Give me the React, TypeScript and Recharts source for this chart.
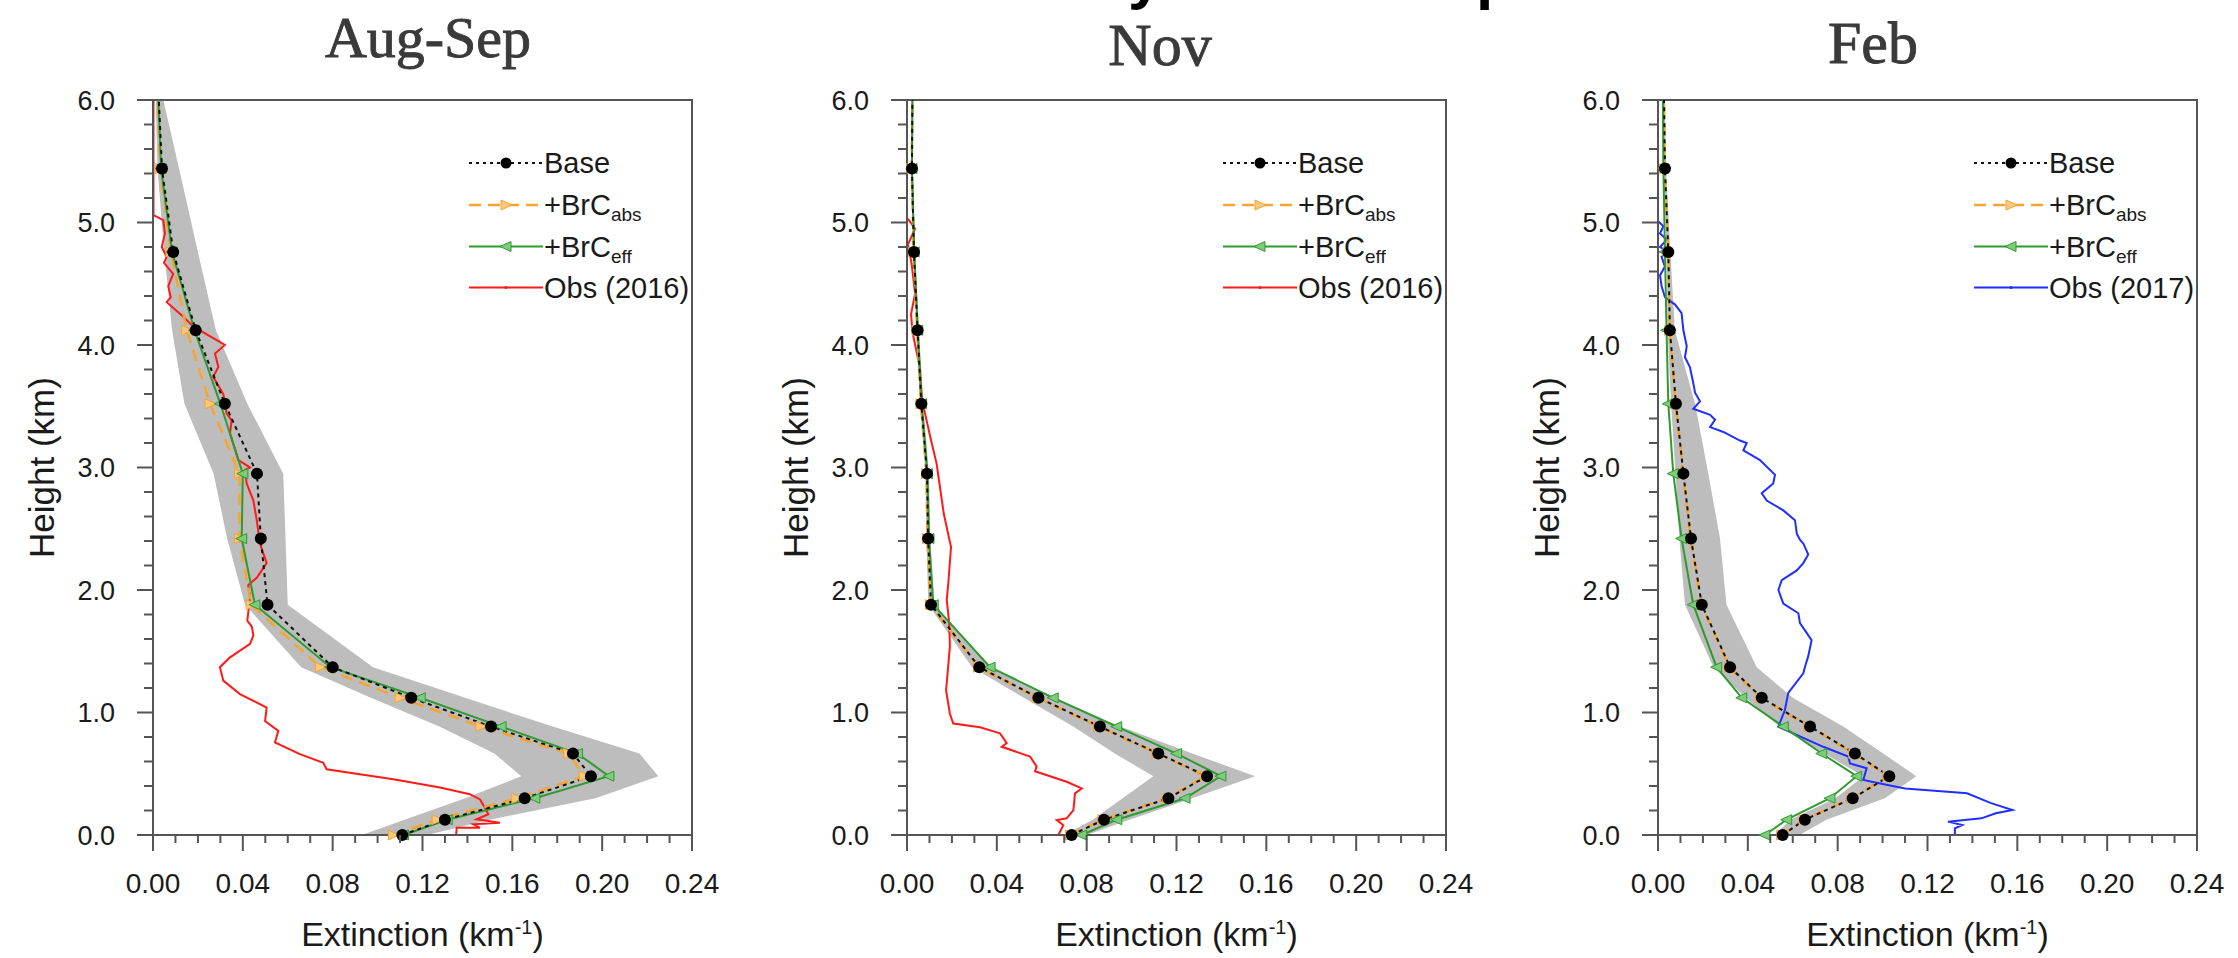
import React from 'react';
import { ComposedChart, Line, Area, XAxis, YAxis, ReferenceArea, Legend } from 'recharts';

// ---------- shared model levels (km) ----------
const modelHeights = [0, 0.125, 0.3, 0.48, 0.665, 0.885, 1.12, 1.37, 1.88, 2.42, 2.95, 3.52, 4.12, 4.76, 5.44, 6.0];

// ---------- Aug-Sep ----------
const augBase = [0.111, 0.13, 0.1655, 0.195, 0.187, 0.1505, 0.115, 0.08, 0.051, 0.048, 0.0463, 0.032, 0.019, 0.009, 0.004, 0.0026];
const augAbs = [0.107, 0.1265, 0.162, 0.192, 0.185, 0.146, 0.11, 0.0745, 0.0437, 0.0385, 0.0385, 0.0254, 0.015, 0.008, 0.0032, 0.0022];
const augEff = [0.1115, 0.131, 0.17, 0.203, 0.189, 0.155, 0.119, 0.079, 0.0454, 0.0395, 0.04, 0.03, 0.0185, 0.0085, 0.0036, 0.0024];
const augLow = [0.093, 0.112, 0.139, 0.164, 0.152, 0.1275, 0.097, 0.066, 0.041, 0.033, 0.027, 0.014, 0.0085, 0.005, 0.002, 0.0012];
const augHigh = [0.122, 0.15, 0.197, 0.225, 0.2166, 0.178, 0.139, 0.098, 0.06, 0.059, 0.058, 0.042, 0.028, 0.02, 0.0116, 0.0046];
const augObsHeight = [6.0, 5.06, 5.02, 4.91, 4.8, 4.72, 4.67, 4.58, 4.48, 4.39, 4.35, 4.23, 4.15, 4.0, 3.93, 3.82, 3.74, 3.6, 3.44, 3.385, 3.28, 3.06, 3.0, 2.98, 2.87, 2.73, 2.57, 2.38, 2.22, 2.1, 2.04, 1.94, 1.75, 1.7, 1.63, 1.56, 1.45, 1.37, 1.26, 1.15, 1.04, 0.93, 0.85, 0.755, 0.66, 0.59, 0.537, 0.455, 0.387, 0.333, 0.29, 0.223, 0.17, 0.128, 0.1, 0.087, 0.06, 0.06, 0.0];
const augObsExt = [0.0002, 0.0002, 0.0046, 0.0053, 0.0039, 0.0061, 0.0049, 0.009, 0.0068, 0.0079, 0.0061, 0.0135, 0.018, 0.032, 0.0276, 0.0291, 0.0268, 0.0313, 0.0328, 0.035, 0.0343, 0.038, 0.0432, 0.041, 0.0417, 0.0447, 0.0462, 0.0476, 0.0506, 0.0462, 0.0424, 0.0432, 0.042, 0.044, 0.0447, 0.0432, 0.0343, 0.0298, 0.0313, 0.0387, 0.0506, 0.0499, 0.0558, 0.0543, 0.0654, 0.0758, 0.0773, 0.107, 0.1278, 0.1411, 0.1456, 0.1478, 0.1493, 0.1441, 0.1545, 0.1426, 0.1456, 0.1352, 0.135];

// ---------- Nov ----------
const novBase = [0.0733, 0.0877, 0.1164, 0.1336, 0.1119, 0.0859, 0.0585, 0.0322, 0.0107, 0.0094, 0.0089, 0.0064, 0.0047, 0.0031, 0.0022, 0.0024];
const novAbs = [0.0728, 0.0872, 0.1158, 0.133, 0.1113, 0.0853, 0.058, 0.0318, 0.0104, 0.0091, 0.0087, 0.0062, 0.0045, 0.003, 0.0021, 0.0024];
const novEff = [0.0778, 0.0934, 0.1238, 0.1398, 0.12, 0.0934, 0.0651, 0.037, 0.0117, 0.0098, 0.0091, 0.0065, 0.0048, 0.0032, 0.0022, 0.0024];
const novLow = [0.07, 0.0827, 0.096, 0.1097, 0.0925, 0.074, 0.052, 0.029, 0.0095, 0.0086, 0.0082, 0.0058, 0.0042, 0.0028, 0.0019, 0.002];
const novHigh = [0.08, 0.099, 0.127, 0.155, 0.127, 0.095, 0.066, 0.037, 0.0122, 0.0104, 0.0098, 0.0072, 0.0054, 0.0036, 0.0026, 0.0028];
const novObsHeight = [5.03, 4.95, 4.82, 4.67, 4.42, 4.25, 4.1, 3.82, 3.55, 3.28, 3.2, 3.03, 2.9, 2.62, 2.35, 2.08, 1.92, 1.73, 1.54, 1.18, 0.99, 0.91, 0.88, 0.83, 0.75, 0.72, 0.64, 0.56, 0.52, 0.435, 0.38, 0.34, 0.204, 0.136, 0.122, 0.08, 0.0];
const novObsExt = [0.0004, 0.0036, 0.0004, 0.002, 0.0036, 0.0018, 0.0025, 0.0057, 0.0067, 0.01, 0.011, 0.0132, 0.0142, 0.0164, 0.0196, 0.0185, 0.0177, 0.0188, 0.0191, 0.0174, 0.0191, 0.0206, 0.0325, 0.0414, 0.0444, 0.0422, 0.0548, 0.0577, 0.057, 0.0711, 0.0778, 0.0748, 0.0741, 0.0711, 0.0667, 0.0696, 0.0674];

// ---------- Feb ----------
const febBase = [0.0555, 0.0654, 0.0867, 0.103, 0.0877, 0.0677, 0.0462, 0.0321, 0.0195, 0.0147, 0.0113, 0.008, 0.0053, 0.0046, 0.0031, 0.0027];
const febAbs = [0.0551, 0.065, 0.0862, 0.1024, 0.0872, 0.0672, 0.0458, 0.0318, 0.0193, 0.0145, 0.0112, 0.0079, 0.0052, 0.0045, 0.003, 0.0027];
const febEff = [0.0476, 0.0573, 0.0766, 0.0885, 0.0729, 0.0558, 0.0373, 0.0261, 0.0157, 0.0105, 0.0068, 0.0046, 0.0038, 0.0031, 0.0024, 0.0022];
const febLow = [0.052, 0.059, 0.079, 0.0915, 0.074, 0.054, 0.039, 0.0247, 0.012, 0.0095, 0.0078, 0.0058, 0.0043, 0.0038, 0.0027, 0.0023];
const febHigh = [0.063, 0.075, 0.101, 0.115, 0.1003, 0.0825, 0.06, 0.044, 0.0305, 0.0276, 0.0224, 0.0165, 0.0075, 0.0055, 0.0036, 0.0031];
const febObsHeight = [5.01, 4.97, 4.91, 4.86, 4.8, 4.76, 4.72, 4.64, 4.57, 4.48, 4.39, 4.33, 4.26, 4.12, 3.99, 3.9, 3.82, 3.69, 3.61, 3.54, 3.48, 3.43, 3.39, 3.33, 3.29, 3.22, 3.2, 3.14, 3.06, 2.94, 2.87, 2.79, 2.73, 2.65, 2.57, 2.46, 2.41, 2.38, 2.29, 2.22, 2.16, 2.08, 2.0, 1.89, 1.81, 1.73, 1.65, 1.59, 1.46, 1.37, 1.32, 1.16, 1.02, 0.884, 0.83, 0.72, 0.64, 0.585, 0.545, 0.45, 0.435, 0.38, 0.34, 0.26, 0.204, 0.177, 0.136, 0.109, 0.082, 0.054, 0.0];
const febObsExt = [0.0001, 0.0024, 0.0009, 0.0039, 0.0009, 0.0046, 0.0016, 0.0031, 0.0009, 0.0016, 0.0031, 0.0076, 0.0105, 0.0113, 0.0128, 0.012, 0.0142, 0.0157, 0.0165, 0.0187, 0.0157, 0.0232, 0.0254, 0.0232, 0.0291, 0.0365, 0.0395, 0.038, 0.0454, 0.0521, 0.0513, 0.0462, 0.0484, 0.0558, 0.061, 0.0618, 0.0632, 0.0647, 0.0669, 0.0647, 0.0618, 0.0551, 0.0536, 0.0558, 0.0625, 0.0632, 0.0662, 0.0684, 0.0669, 0.0654, 0.0647, 0.058, 0.0565, 0.0536, 0.0602, 0.0736, 0.0847, 0.0855, 0.0929, 0.0914, 0.0951, 0.11, 0.1376, 0.1483, 0.1578, 0.1504, 0.144, 0.1291, 0.1355, 0.1322, 0.1322];

// ---------- ticks / labels ----------
const xMajorTicks = [0, 0.04, 0.08, 0.12, 0.16, 0.2, 0.24];
const xTickLabels = ['0.00', '0.04', '0.08', '0.12', '0.16', '0.20', '0.24'];
const xMinorTicks = [0.01, 0.02, 0.03, 0.05, 0.06, 0.07, 0.09, 0.1, 0.11, 0.13, 0.14, 0.15, 0.17, 0.18, 0.19, 0.21, 0.22, 0.23];
const yMajorTicks = [0, 1, 2, 3, 4, 5, 6];
const yTickLabels = ['0.0', '1.0', '2.0', '3.0', '4.0', '5.0', '6.0'];
const yMinorTicks = [0.2, 0.4, 0.6, 0.8, 1.2, 1.4, 1.6, 1.8, 2.2, 2.4, 2.6, 2.8, 3.2, 3.4, 3.6, 3.8, 4.2, 4.4, 4.6, 4.8, 5.2, 5.4, 5.6, 5.8];
const panelTitles = ['Aug-Sep', 'Nov', 'Feb'];
const seriesNames = ['Base', '+BrC', '+BrC', 'Obs'];
const obsYears = ['(2016)', '(2016)', '(2017)'];

const xAllTicks = [...xMajorTicks, ...xMinorTicks].sort((a, b) => a - b);
const yAllTicks = [...yMajorTicks, ...yMinorTicks].sort((a, b) => a - b);

const AXIS_COLOR = '#555555';
const TEXT_COLOR = '#1a1a1a';
const SANS = '"Liberation Sans", Arial, Helvetica, sans-serif';
const SERIF = '"Liberation Serif", "Times New Roman", serif';
const BAND = '#bdbdbd';
const ORANGE = '#f5a530';
const ORANGE_LIGHT = '#f9c77e';
const GREEN = '#2f9a2f';
const GREEN_LIGHT = '#7ccc7c';
const TITLE_COLOR = '#3a3a3a';

const TICK_SIZE = 16;
const TICK_MARGIN = 22;

const findIdx = (arr: number[], v: number) => arr.findIndex((t) => Math.abs(t - v) < 1e-9);

const XTick = (props: any) => {
  const { x, y, payload } = props;
  const idx = findIdx(xMajorTicks, payload.value);
  const axisY = y - TICK_SIZE - TICK_MARGIN;
  return (
    <g>
      <line x1={x} x2={x} y1={axisY} y2={axisY + (idx >= 0 ? 16 : 8)} stroke={AXIS_COLOR} strokeWidth={2} />
      {idx >= 0 && (
        <text x={x} y={axisY + 58} textAnchor="middle" fontSize={28} fontFamily={SANS} fill={TEXT_COLOR}>
          {xTickLabels[idx]}
        </text>
      )}
    </g>
  );
};

const YTick = (props: any) => {
  const { x, y, payload } = props;
  const idx = findIdx(yMajorTicks, payload.value);
  const axisX = x + TICK_SIZE + TICK_MARGIN;
  return (
    <g>
      <line x1={axisX - (idx >= 0 ? 16 : 9)} x2={axisX} y1={y} y2={y} stroke={AXIS_COLOR} strokeWidth={2} />
      {idx >= 0 && (
        <text x={x} y={y + 9.5} textAnchor="end" fontSize={27} fontFamily={SANS} fill={TEXT_COLOR}>
          {yTickLabels[idx]}
        </text>
      )}
    </g>
  );
};

const XTitle = (props: any) => {
  const vb = props.viewBox || { x: 0, y: 0, width: 0, height: 0 };
  return (
    <text x={vb.x + vb.width / 2} y={vb.y + 111} textAnchor="middle" fontSize={34} fontFamily={SANS} fill={TEXT_COLOR}>
      Extinction (km
      <tspan fontSize={20} dy={-12}>-1</tspan>
      <tspan dy={12}>)</tspan>
    </text>
  );
};

const YTitle = (props: any) => {
  const vb = props.viewBox || { x: 0, y: 0, width: 0, height: 0 };
  const cx = vb.x + 41;
  const cy = vb.y + vb.height / 2;
  return (
    <text x={cx} y={cy} dy="0.35em" textAnchor="middle" fontSize={35} fontFamily={SANS} fill={TEXT_COLOR} transform={`rotate(-90, ${cx}, ${cy})`}>
      Height (km)
    </text>
  );
};

const baseDot = (props: any) => {
  const { cx, cy, payload, index } = props;
  if (payload.h >= 6) return <g key={`bd${index}`} />;
  return <circle key={`bd${index}`} cx={cx} cy={cy} r={6} fill="#000" />;
};

const absDot = (props: any) => {
  const { cx, cy, payload, index } = props;
  if (payload.h >= 6) return <g key={`ad${index}`} />;
  return <polygon key={`ad${index}`} points={`${cx - 5},${cy - 5} ${cx + 6},${cy} ${cx - 5},${cy + 5}`} fill={ORANGE_LIGHT} stroke={ORANGE} strokeWidth={1} />;
};

const effDot = (props: any) => {
  const { cx, cy, payload, index } = props;
  if (payload.h >= 6) return <g key={`ed${index}`} />;
  return <polygon key={`ed${index}`} points={`${cx + 5},${cy - 5} ${cx - 6},${cy} ${cx + 5},${cy + 5}`} fill={GREEN_LIGHT} stroke={GREEN} strokeWidth={1} />;
};

const bandRange = (d: any) => [d.lo, d.hi];

const LegendBox = ({ obsColor, obsLabel }: { obsColor: string; obsLabel: string }) => {
  const rows = [28, 70, 111.5, 152.5];
  const tx = 75;
  const fs = 29;
  return (
    <svg width={290} height={180} style={{ display: 'block', overflow: 'visible' }}>
      <line x1={0} x2={74} y1={rows[0]} y2={rows[0]} stroke="#111" strokeWidth={2} strokeDasharray="3 4" />
      <circle cx={37} cy={rows[0]} r={5.5} fill="#000" />
      <text x={tx} y={rows[0] + 10} fontSize={fs} fontFamily={SANS} fill={TEXT_COLOR}>{seriesNames[0]}</text>
      <line x1={0} x2={74} y1={rows[1]} y2={rows[1]} stroke={ORANGE} strokeWidth={2.5} strokeDasharray="12 7" />
      <polygon points={`${32},${rows[1] - 5} ${43},${rows[1]} ${32},${rows[1] + 5}`} fill={ORANGE_LIGHT} stroke={ORANGE} strokeWidth={1} />
      <text x={tx} y={rows[1] + 10} fontSize={fs} fontFamily={SANS} fill={TEXT_COLOR}>
        {seriesNames[1]}
        <tspan fontSize={19} dy={6}>abs</tspan>
      </text>
      <line x1={0} x2={74} y1={rows[2]} y2={rows[2]} stroke={GREEN} strokeWidth={2} />
      <polygon points={`${42},${rows[2] - 5} ${31},${rows[2]} ${42},${rows[2] + 5}`} fill={GREEN_LIGHT} stroke={GREEN} strokeWidth={1} />
      <text x={tx} y={rows[2] + 10} fontSize={fs} fontFamily={SANS} fill={TEXT_COLOR}>
        {seriesNames[2]}
        <tspan fontSize={19} dy={6}>eff</tspan>
      </text>
      <line x1={0} x2={74} y1={rows[3]} y2={rows[3]} stroke={obsColor} strokeWidth={2} />
      <circle cx={37} cy={rows[3]} r={1.6} fill={obsColor} />
      <text x={tx} y={rows[3] + 10} fontSize={fs} fontFamily={SANS} fill={TEXT_COLOR}>{obsLabel}</text>
    </svg>
  );
};

type PanelProps = {
  left: number;
  base: number[];
  abs: number[];
  eff: number[];
  low: number[];
  high: number[];
  obsHeight: number[];
  obsExt: number[];
  obsColor: string;
  obsLabel: string;
};

const RIGHT_MARGIN = 50;
const CHART_W = 152 + 539 + RIGHT_MARGIN;
const CHART_H = 958;

function Panel(p: PanelProps) {
  const band = modelHeights.map((h, i) => ({ h, lo: p.low[i], hi: p.high[i] }));
  const base = modelHeights.map((h, i) => ({ h, v: p.base[i] }));
  const abs = modelHeights.map((h, i) => ({ h, v: p.abs[i] }));
  const eff = modelHeights.map((h, i) => ({ h, v: p.eff[i] }));
  const obs = p.obsHeight.map((h, i) => ({ h, v: p.obsExt[i] }));
  return (
    <div style={{ position: 'absolute', left: p.left, top: 0, width: CHART_W, height: CHART_H }}>
      <ComposedChart layout="vertical" width={CHART_W} height={CHART_H} margin={{ top: 100, right: RIGHT_MARGIN, bottom: 0, left: 0 }}>
        <XAxis
          type="number"
          dataKey="v"
          domain={[0, 0.24]}
          ticks={xAllTicks}
          interval={0}
          height={123}
          tickSize={TICK_SIZE}
          tickMargin={TICK_MARGIN}
          tickLine={false}
          axisLine={{ stroke: AXIS_COLOR, strokeWidth: 2 }}
          tick={XTick}
          label={XTitle}
        />
        <YAxis
          type="number"
          dataKey="h"
          domain={[0, 6]}
          reversed
          ticks={yAllTicks}
          interval={0}
          width={152}
          tickSize={TICK_SIZE}
          tickMargin={TICK_MARGIN}
          tickLine={false}
          axisLine={{ stroke: AXIS_COLOR, strokeWidth: 2 }}
          tick={YTick}
          label={YTitle}
        />
        <Area data={band} dataKey={bandRange} type="linear" fill={BAND} fillOpacity={1} stroke="none" dot={false} activeDot={false} isAnimationActive={false} />
        <Line data={obs} dataKey="v" type="linear" stroke={p.obsColor} strokeWidth={2} dot={false} activeDot={false} isAnimationActive={false} />
        <Line data={abs} dataKey="v" type="linear" stroke={ORANGE} strokeWidth={2.5} strokeDasharray="12 7" dot={absDot} activeDot={false} isAnimationActive={false} />
        <Line data={eff} dataKey="v" type="linear" stroke={GREEN} strokeWidth={2} dot={effDot} activeDot={false} isAnimationActive={false} />
        <Line data={base} dataKey="v" type="linear" stroke="#111" strokeWidth={2} strokeDasharray="4 4" dot={baseDot} activeDot={false} isAnimationActive={false} />
        <ReferenceArea x1={0} x2={0.24} y1={0} y2={6} fill="none" fillOpacity={0} stroke={AXIS_COLOR} strokeWidth={2} />
        <Legend
          layout="vertical"
          align="center"
          verticalAlign="middle"
          wrapperStyle={{ position: 'absolute', left: 468, top: 135, width: 290, height: 180 }}
          content={() => <LegendBox obsColor={p.obsColor} obsLabel={p.obsLabel} />}
        />
      </ComposedChart>
    </div>
  );
}

export default function App() {
  return (
    <div style={{ position: 'absolute', left: 0, top: 0, width: 2238, height: 958, background: '#fff', overflow: 'hidden' }}>
      <svg width={2238} height={958} style={{ position: 'absolute', left: 0, top: 0 }}>
        {/* heading above the figure is cut off by the image edge: only its descenders remain */}
        <text x={1128} y={-3} fontSize={62} fontWeight="bold" fontFamily={SANS} fill="#000">y</text>
        <text x={1476} y={-3} fontSize={62} fontWeight="bold" fontFamily={SANS} fill="#000">p</text>
        <text x={428} y={57} textAnchor="middle" fontSize={58} fontFamily={SERIF} fill={TITLE_COLOR} stroke={TITLE_COLOR} strokeWidth={0.9}>{panelTitles[0]}</text>
        <text x={1160} y={65} textAnchor="middle" fontSize={60} fontFamily={SERIF} fill={TITLE_COLOR} stroke={TITLE_COLOR} strokeWidth={0.9}>{panelTitles[1]}</text>
        <text x={1873} y={63} textAnchor="middle" fontSize={60} fontFamily={SERIF} fill={TITLE_COLOR} stroke={TITLE_COLOR} strokeWidth={0.9}>{panelTitles[2]}</text>
      </svg>
      <Panel left={1} base={augBase} abs={augAbs} eff={augEff} low={augLow} high={augHigh} obsHeight={augObsHeight} obsExt={augObsExt} obsColor="#ff1a1a" obsLabel={`${seriesNames[3]} ${obsYears[0]}`} />
      <Panel left={755} base={novBase} abs={novAbs} eff={novEff} low={novLow} high={novHigh} obsHeight={novObsHeight} obsExt={novObsExt} obsColor="#ff1a1a" obsLabel={`${seriesNames[3]} ${obsYears[1]}`} />
      <Panel left={1506} base={febBase} abs={febAbs} eff={febEff} low={febLow} high={febHigh} obsHeight={febObsHeight} obsExt={febObsExt} obsColor="#1f2fff" obsLabel={`${seriesNames[3]} ${obsYears[2]}`} />
    </div>
  );
}
